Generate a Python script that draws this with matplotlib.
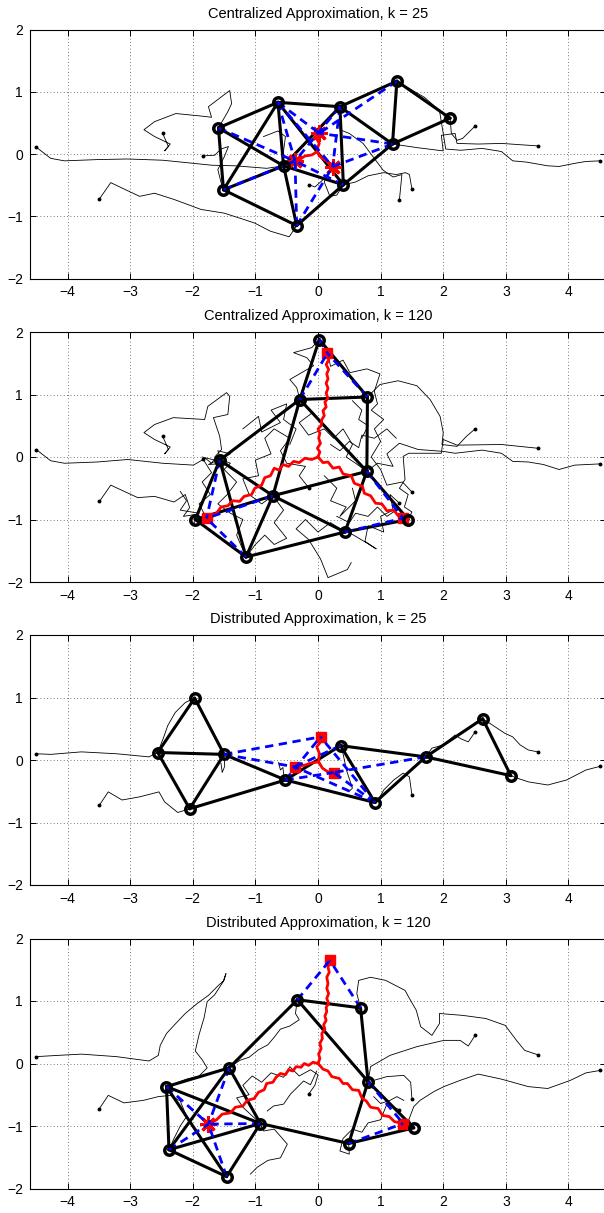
import matplotlib
matplotlib.use("Agg")
import matplotlib.pyplot as plt

plt.rcParams['font.family'] = ['Liberation Sans', 'DejaVu Sans']

titles = ["Centralized Approximation, k = 25",
          "Centralized Approximation, k = 120",
          "Distributed Approximation, k = 25",
          "Distributed Approximation, k = 120"]
x_ticks = [-4, -3, -2, -1, 0, 1, 2, 3, 4]
y_ticks = [-2, -1, 0, 1, 2]

# ---------------- Panel 1 : Centralized, k = 25 ----------------
p1_nodes_x = [-1.59, -0.64, 0.35, 1.26, 2.11, 1.19, -0.55, 0.405, -1.51, -0.34]
p1_nodes_y = [0.42, 0.83, 0.76, 1.17, 0.575, 0.16, -0.19, -0.495, -0.575, -1.15]
p1_edges = [(0, 1), (0, 8), (0, 6), (1, 2), (1, 8), (1, 6), (1, 7), (2, 3), (2, 5),
            (2, 7), (2, 6), (3, 4), (3, 5), (4, 5), (5, 7), (6, 7), (6, 8), (6, 9),
            (7, 9), (8, 9)]
p1_marks_x = [0.02, -0.367, 0.234]
p1_marks_y = [0.334, -0.113, -0.204]
p1_marks_kind = ['*', '*', '*']
p1_dashed = [(0, 1), (1, 0), (1, 1), (1, 2), (2, 1), (2, 2), (3, 0), (5, 0), (5, 2),
             (7, 1), (8, 1), (9, 1), (9, 2)]
p1_red = [
    [(-0.01, 0.04), (0.0, 0.12), (0.021, 0.17), (-0.011, 0.226), (0.02, 0.334)],
    [(-0.01, 0.04), (-0.1, -0.016), (-0.208, -0.032), (-0.288, -0.086), (-0.367, -0.113)],
    [(-0.01, 0.04), (0.021, -0.032), (0.112, -0.097), (0.192, -0.15), (0.234, -0.204)],
]
p1_agent_trails = [
    [(-4.50, 0.11), (-4.27, -0.07), (-4.05, -0.11), (-3.53, -0.09), (-3.04, -0.08), (-2.48, -0.10),
     (-1.99, -0.15), (-1.70, -0.18), (-1.32, -0.19), (-0.82, -0.23), (-0.55, -0.19)],
    [(-3.49, -0.72), (-3.31, -0.46), (-3.04, -0.59), (-2.85, -0.68), (-2.61, -0.63), (-2.30, -0.73),
     (-1.87, -0.89), (-1.50, -0.95), (-1.25, -1.03), (-1.01, -1.11), (-0.76, -1.24), (-0.46, -1.33),
     (-0.34, -1.15)],
    [(-2.48, 0.33), (-2.39, 0.12), (-2.45, 0.05), (-2.36, 0.16), (-2.61, 0.28), (-2.78, 0.39),
     (-2.61, 0.52), (-2.27, 0.65), (-1.87, 0.61), (-1.70, 0.59), (-1.75, 0.76), (-1.41, 1.02),
     (-1.38, 0.81), (-1.44, 0.68), (-1.59, 0.42)],
    [(-1.84, -0.03), (-1.65, -0.02), (-1.55, 0.08), (-1.43, 0.12), (-1.50, -0.05), (-1.60, -0.25),
     (-1.55, -0.45), (-1.51, -0.575)],
    [(3.51, 0.13), (2.93, 0.17), (2.56, 0.16), (2.22, 0.17), (2.19, 0.33), (1.97, 0.30), (2.0, 0.05),
     (1.6, 0.1), (1.19, 0.16)],
    [(2.51, 0.45), (2.31, 0.25), (2.22, 0.22), (2.13, 0.33), (2.11, 0.575)],
    [(4.51, -0.11), (4.28, -0.12), (4.10, -0.15), (3.85, -0.20), (3.67, -0.19), (3.33, -0.13),
     (3.11, -0.11), (2.93, 0.04), (2.62, 0.09), (2.28, 0.06), (2.04, 0.08), (2.0, 0.33), (1.94, 0.70),
     (1.70, 0.91), (1.26, 1.17)],
    [(1.30, -0.74), (1.34, -0.33), (1.2, -0.37), (1.04, -0.26), (0.72, 0.17), (0.5, 0.33),
     (0.35, 0.39), (0.35, 0.76)],
    [(1.50, -0.56), (1.46, -0.33), (1.40, -0.30), (1.25, -0.33), (1.05, -0.30), (0.8, -0.35),
     (0.6, -0.45), (0.405, -0.495)],
    [(-0.15, -0.49), (-0.05, -0.53), (0.14, -0.36), (0.1, -0.45), (0.19, -0.68), (0.3, -0.66),
     (0.405, -0.495)],
]
p1_extra_trails = [
    [(-0.87, 0.28), (-0.64, 0.37), (-0.52, 0.28), (-0.55, 0.05), (-0.55, -0.19)],
]

# ---------------- Panel 2 : Centralized, k = 120 ----------------
p2_nodes_x = [0.02, 0.79, -0.29, -1.57, 0.78, -0.72, -1.96, 1.44, 0.43, -1.15]
p2_nodes_y = [1.88, 0.96, 0.92, -0.05, -0.23, -0.62, -1.0, -1.0, -1.2, -1.6]
p2_edges = [(0, 2), (0, 1), (2, 1), (2, 3), (2, 5), (2, 4), (1, 4), (3, 5), (5, 8), (3, 6),
            (3, 9), (6, 5), (5, 4), (5, 9), (6, 9), (9, 8), (8, 7), (4, 7), (4, 8)]
p2_marks_x = [0.15, -1.78, 1.36]
p2_marks_y = [1.66, -0.98, -0.98]
p2_marks_kind = ['s', 's', 's']
p2_dashed = [(0, 0), (2, 0), (1, 0), (3, 1), (9, 1), (5, 1), (4, 2), (8, 2)]
p2_red = [
    [(0.0, 0.0), (0.03, 0.08), (-0.01, 0.14), (0.04, 0.22), (0.01, 0.30), (0.03, 0.38), (0.0, 0.45),
     (0.05, 0.50), (0.06, 0.60), (0.10, 0.66), (0.08, 0.74), (0.13, 0.80), (0.11, 0.88), (0.16, 0.94),
     (0.13, 1.02), (0.16, 1.10), (0.13, 1.18), (0.16, 1.25), (0.14, 1.33), (0.17, 1.40), (0.13, 1.48),
     (0.17, 1.55), (0.15, 1.66)],
    [(0.0, 0.0), (-0.10, -0.04), (-0.21, -0.02), (-0.30, -0.09), (-0.39, -0.07), (-0.47, -0.15),
     (-0.56, -0.12), (-0.62, -0.21), (-0.70, -0.18), (-0.76, -0.30), (-0.85, -0.33), (-0.90, -0.45),
     (-1.01, -0.50), (-1.06, -0.60), (-1.18, -0.63), (-1.25, -0.71), (-1.36, -0.70), (-1.44, -0.78),
     (-1.55, -0.80), (-1.62, -0.90), (-1.78, -0.98)],
    [(0.0, 0.0), (0.08, -0.09), (0.16, -0.08), (0.24, -0.18), (0.34, -0.16), (0.40, -0.27),
     (0.53, -0.30), (0.58, -0.42), (0.71, -0.47), (0.74, -0.58), (0.84, -0.62), (0.92, -0.74),
     (1.02, -0.75), (1.10, -0.86), (1.21, -0.85), (1.28, -0.94), (1.36, -0.98)],
]
p2_agent_trails = [
    [(-4.50, 0.12), (-4.27, -0.06), (-4.05, -0.10), (-3.53, -0.08), (-3.04, -0.04), (-2.48, -0.10),
     (-1.99, -0.13), (-1.80, -0.02), (-1.70, -0.10), (-1.62, 0.02), (-1.57, -0.05)],
    [(-3.49, -0.71), (-3.31, -0.45), (-2.88, -0.65), (-2.61, -0.63), (-2.30, -0.72), (-2.12, -0.60),
     (-2.05, -0.81), (-2.15, -0.95), (-1.96, -0.92), (-1.96, -1.0)],
    [(-2.48, 0.33), (-2.39, 0.12), (-2.45, 0.05), (-2.36, 0.16), (-2.61, 0.28), (-2.78, 0.39),
     (-2.61, 0.52), (-2.31, 0.63), (-1.81, 0.60), (-1.76, 0.81), (-1.46, 1.03), (-1.41, 0.97),
     (-1.44, 0.68), (-1.67, 0.63), (-1.57, 0.33), (-1.54, 0.12), (-1.65, 0.0), (-1.4, -0.1),
     (-1.5, -0.2), (-1.3, -0.4), (-1.45, -0.6), (-1.6, -0.75), (-1.4, -0.9), (-1.2, -1.0),
     (-1.3, -1.25), (-1.15, -1.6)],
    [(-1.84, -0.03), (-1.7, -0.25), (-1.85, -0.4), (-1.72, -0.6), (-1.9, -0.75), (-1.78, -0.98)],
    [(3.51, 0.14), (2.93, 0.20), (2.22, 0.19), (2.0, 0.28), (1.97, 0.06), (1.45, 0.06), (1.36, 0.01),
     (1.39, -0.36), (1.30, -0.5), (1.44, -0.6), (1.38, -0.8), (1.5, -0.88), (1.44, -1.0)],
    [(2.51, 0.45), (2.37, 0.33), (2.22, 0.17), (1.98, 0.2), (2.0, 0.39), (1.95, 0.65), (1.79, 0.92),
     (1.58, 1.14), (1.28, 1.22), (0.99, 1.16), (0.79, 0.96)],
    [(4.51, -0.11), (4.10, -0.13), (3.85, -0.2), (3.60, -0.12), (3.36, -0.08), (3.11, -0.07),
     (2.93, 0.06), (2.62, 0.11), (2.19, 0.06), (2.0, 0.09), (1.6, 0.12), (1.3, 0.22), (1.1, 0.05),
     (1.2, -0.15), (0.95, -0.1), (0.78, -0.23)],
    [(1.30, -0.74), (1.15, -0.6), (1.2, -0.85), (1.0, -0.95), (1.05, -1.2), (0.8, -1.1), (0.75, -1.35),
     (0.93, -1.47), (0.77, -1.37), (0.5, -1.21), (0.43, -1.2)],
    [(1.50, -0.56), (1.35, -0.4), (1.1, -0.45), (1.0, -0.2), (0.85, 0.0), (1.0, 0.25), (0.9, 0.45),
     (1.05, 0.6), (0.85, 0.75), (0.95, 0.85), (0.9, 1.05), (0.99, 1.33), (0.78, 1.41), (0.51, 1.35),
     (0.4, 1.55), (0.2, 1.45), (0.15, 1.7), (0.02, 1.88)],
    [(-0.15, -0.49), (-0.3, -0.3), (-0.2, -0.15), (-0.5, -0.1), (-0.6, 0.1), (-0.45, 0.3), (-0.7, 0.45),
     (-0.85, 0.3), (-0.75, 0.05), (-1.0, -0.05), (-0.95, -0.3), (-1.2, -0.35), (-1.1, -0.6),
     (-0.9, -0.75), (-0.72, -0.62)],
]
p2_extra_trails = [
    [(0.02, 1.88), (-0.1, 1.75), (-0.39, 1.67), (-0.18, 1.59), (-0.07, 1.46), (-0.26, 1.35),
     (-0.45, 1.24), (-0.34, 1.11), (-0.29, 0.92)],
    [(-0.29, 0.92), (-0.1, 0.7), (-0.3, 0.55), (-0.15, 0.35), (0.1, 0.45), (0.25, 0.3), (0.4, 0.45),
     (0.55, 0.2), (0.45, 0.0), (0.6, -0.1), (0.78, -0.23)],
    [(0.43, -1.2), (0.2, -1.05), (0.0, -1.2), (-0.2, -1.0), (-0.35, -1.15), (-0.15, -1.32),
     (0.04, -1.63), (0.16, -1.93), (0.47, -1.8), (0.53, -1.69)],
    [(-0.72, -0.62), (-0.55, -0.85), (-0.7, -1.05), (-0.5, -1.3), (-0.7, -1.4), (-0.85, -1.25),
     (-1.0, -1.4), (-1.15, -1.6)],
    [(-1.2, 0.45), (-0.95, 0.65), (-0.9, 0.4), (-0.6, 0.55), (-0.75, 0.75), (-0.5, 0.85), (-0.55, 0.6),
     (-0.35, 0.45), (-0.45, 0.2)],
    [(0.2, 0.2), (0.35, 0.1), (0.5, 0.25), (0.65, 0.15), (0.7, 0.35), (0.9, 0.3), (1.1, 0.45),
     (1.25, 0.3)],
    [(-1.85, 0.0), (-1.45, -0.1), (-1.75, -0.12), (-1.4, 0.05), (-1.6, 0.1), (-1.5, -0.2)],
    [(-2.2, -0.55), (-2.1, -0.7), (-2.2, -0.85), (-1.9, -0.9), (-2.0, -1.1)],
    [(0.3, -0.95), (0.5, -1.05), (0.6, -0.9), (0.8, -0.95), (0.95, -0.8), (1.1, -0.95), (1.25, -0.85)],
    [(0.1, -0.3), (0.3, -0.5), (0.2, -0.7), (0.45, -0.8), (0.35, -0.95), (0.6, -0.7), (0.55, -0.5)],
    [(0.55, 0.9), (0.7, 0.75), (0.65, 0.6), (0.8, 0.5), (0.7, 0.3)],
]

# ---------------- Panel 3 : Distributed, k = 25 ----------------
p3_nodes_x = [-2.56, -1.97, -1.50, -2.05, -0.52, 0.36, 0.91, 1.72, 2.63, 3.08]
p3_nodes_y = [0.12, 0.99, 0.09, -0.78, -0.32, 0.23, -0.68, 0.05, 0.66, -0.25]
p3_edges = [(0, 1), (0, 2), (0, 3), (1, 2), (2, 3), (2, 4), (3, 4), (4, 5), (4, 6), (5, 6),
            (5, 7), (6, 7), (7, 8), (7, 9), (8, 9)]
p3_marks_x = [0.04, -0.37, 0.25]
p3_marks_y = [0.37, -0.11, -0.2]
p3_marks_kind = ['s', 's', 's']
p3_dashed = [(2, 0), (2, 1), (4, 0), (4, 2), (5, 1), (6, 1), (6, 0), (6, 2), (7, 2)]
p3_red = [
    [(0.01, -0.03), (0.02, 0.11), (-0.02, 0.21), (0.05, 0.3), (0.04, 0.37)],
    [(0.01, -0.03), (0.07, -0.13), (0.16, -0.19), (0.25, -0.2)],
    [(0.01, -0.03), (-0.12, -0.05), (-0.2, -0.08), (-0.37, -0.11)],
]
p3_agent_trails = [
    [(-4.50, 0.10), (-4.27, 0.09), (-3.78, 0.13), (-3.22, 0.10), (-2.70, 0.05), (-2.56, 0.12)],
    [(-3.49, -0.72), (-3.35, -0.51), (-3.13, -0.64), (-2.85, -0.59), (-2.54, -0.51), (-2.45, -0.67),
     (-2.24, -0.84), (-2.05, -0.78)],
    [(1.50, -0.56), (1.46, -0.27), (1.36, -0.21), (1.21, -0.32), (1.05, -0.48), (0.99, -0.59),
     (0.91, -0.68)],
    [(2.51, 0.45), (2.40, 0.29), (2.28, 0.34), (2.19, 0.40), (2.0, 0.24), (1.82, 0.19), (1.72, 0.05)],
    [(3.51, 0.13), (3.36, 0.16), (3.23, 0.24), (3.11, 0.37), (2.98, 0.43), (2.74, 0.59), (2.63, 0.66)],
    [(4.51, -0.10), (4.28, -0.16), (3.97, -0.32), (3.67, -0.40), (3.36, -0.35), (3.18, -0.29),
     (3.08, -0.25)],
]
p3_extra_trails = [
    [(-2.56, 0.12), (-2.47, 0.35), (-2.40, 0.55), (-2.28, 0.76), (-2.12, 0.92), (-1.97, 0.99)],
    [(-1.55, -0.05), (-1.53, -0.2), (-1.49, -0.1), (-1.50, 0.09)],
    [(-0.63, -0.04), (-0.6, -0.16), (-0.56, -0.12), (-0.55, -0.22), (-0.52, -0.32)],
    [(0.36, 0.23), (0.4, 0.1), (0.46, -0.18), (0.5, -0.3), (0.55, -0.45), (0.5, -0.5)],
]

# ---------------- Panel 4 : Distributed, k = 120 ----------------
p4_nodes_x = [-0.33, 0.68, -1.42, -2.42, 0.80, -0.92, 1.53, 0.49, -2.38, -1.46]
p4_nodes_y = [1.02, 0.89, -0.07, -0.37, -0.29, -0.96, -1.03, -1.28, -1.38, -1.81]
p4_edges = [(0, 1), (0, 2), (0, 4), (1, 4), (4, 6), (4, 7), (6, 7), (7, 5), (2, 3), (2, 5),
            (2, 8), (3, 5), (3, 8), (3, 9), (8, 5), (8, 9), (9, 5)]
p4_marks_x = [0.19, -1.75, 1.36]
p4_marks_y = [1.65, -0.97, -0.96]
p4_marks_kind = ['s', '*', 's']
p4_dashed = [(0, 0), (1, 0), (2, 1), (3, 1), (8, 1), (9, 1), (5, 1), (4, 2), (7, 2)]
p4_red = [
    [(0.0, 0.0), (0.03, 0.08), (0.01, 0.15), (0.05, 0.24), (0.03, 0.32), (0.07, 0.40), (0.06, 0.48),
     (0.11, 0.55), (0.09, 0.62), (0.13, 0.69), (0.11, 0.76), (0.14, 0.83), (0.13, 0.90), (0.17, 0.96),
     (0.14, 1.04), (0.17, 1.12), (0.14, 1.20), (0.16, 1.28), (0.14, 1.38), (0.18, 1.46), (0.16, 1.54),
     (0.19, 1.65)],
    [(0.0, 0.0), (-0.08, 0.02), (-0.15, -0.03), (-0.22, 0.0), (-0.27, -0.06), (-0.35, -0.05),
     (-0.40, -0.12), (-0.47, -0.10), (-0.52, -0.18), (-0.60, -0.16), (-0.67, -0.22), (-0.72, -0.30),
     (-0.82, -0.32), (-0.86, -0.42), (-0.95, -0.46), (-1.02, -0.56), (-1.13, -0.59), (-1.20, -0.68),
     (-1.32, -0.70), (-1.40, -0.79), (-1.53, -0.81), (-1.62, -0.90), (-1.75, -0.97)],
    [(0.0, 0.0), (0.08, -0.09), (0.16, -0.12), (0.22, -0.21), (0.34, -0.24), (0.40, -0.32),
     (0.47, -0.32), (0.55, -0.42), (0.65, -0.43), (0.70, -0.55), (0.77, -0.60), (0.84, -0.70),
     (0.96, -0.72), (1.03, -0.83), (1.14, -0.85), (1.22, -0.93), (1.36, -0.96)],
]
p4_agent_trails = [
    [(-4.50, 0.11), (-4.15, 0.13), (-3.78, 0.15), (-3.22, 0.11), (-2.70, 0.04), (-2.55, 0.13),
     (-2.52, 0.29), (-2.42, 0.48), (-2.30, 0.61), (-2.12, 0.80), (-1.93, 0.96), (-1.75, 1.09),
     (-1.59, 1.25), (-1.50, 1.33), (-1.47, 1.44), (-1.52, 1.3), (-1.65, 1.1), (-1.77, 0.99),
     (-1.82, 0.73), (-1.90, 0.46), (-1.96, 0.2), (-1.85, 0.06), (-1.77, -0.07), (-1.9, -0.2),
     (-2.1, -0.25), (-2.42, -0.37)],
    [(-3.49, -0.72), (-3.35, -0.51), (-3.10, -0.63), (-2.79, -0.59), (-2.55, -0.53), (-2.36, -0.51),
     (-2.2, -0.6), (-2.1, -0.85), (-2.2, -1.0), (-2.3, -1.2), (-2.38, -1.38)],
    [(3.51, 0.14), (3.30, 0.21), (3.17, 0.37), (2.99, 0.61), (2.68, 0.72), (2.31, 0.77), (1.94, 0.80),
     (1.94, 0.64), (1.82, 0.45), (1.64, 0.59), (1.57, 0.85), (1.45, 1.06), (1.39, 1.17), (1.08, 1.33),
     (0.84, 1.38), (0.65, 1.33), (0.62, 1.12), (0.68, 0.89)],
    [(2.51, 0.45), (2.40, 0.28), (2.27, 0.37), (2.01, 0.37), (1.58, 0.27), (1.15, 0.13), (0.84, -0.05),
     (0.80, -0.29)],
    [(4.51, -0.11), (4.28, -0.15), (4.03, -0.27), (3.67, -0.40), (3.36, -0.37), (2.93, -0.25),
     (2.56, -0.17), (2.27, -0.27), (2.01, -0.37), (1.85, -0.45), (1.63, -0.59), (1.53, -0.69),
     (1.45, -0.90), (1.53, -1.03)],
    [(1.50, -0.56), (1.48, -0.3), (1.37, -0.19), (1.10, -0.21), (0.89, -0.27), (0.80, -0.29)],
    [(1.30, -0.74), (1.1, -0.65), (1.0, -0.9), (0.8, -0.95), (0.7, -1.1), (0.55, -1.05), (0.4, -1.2),
     (0.35, -1.4), (0.5, -1.45), (0.49, -1.28)],
    [(-0.15, -0.49), (-0.05, -0.35), (0.0, -0.18), (-0.12, -0.1), (-0.3, -0.2), (-0.45, -0.05),
     (-0.55, -0.22), (-0.75, -0.15), (-0.9, -0.3), (-1.05, -0.2), (-1.2, -0.35), (-1.1, -0.5),
     (-1.3, -0.55), (-1.2, -0.7), (-0.92, -0.96)],
]
p4_extra_trails = [
    [(-0.92, -0.96), (-0.87, -1.08), (-0.7, -1.05), (-0.49, -1.29), (-0.6, -1.51), (-0.8, -1.55),
     (-0.97, -1.66), (-1.08, -1.77)],
    [(-0.33, 1.02), (-0.36, 0.8), (-0.3, 0.7), (-0.45, 0.6), (-0.6, 0.55), (-0.7, 0.42), (-0.8, 0.3),
     (-0.95, 0.22), (-1.1, 0.1), (-1.25, 0.05), (-1.42, -0.07)],
    [(-0.81, -0.76), (-0.71, -0.68), (-0.55, -0.65), (-0.44, -0.49), (-0.34, -0.39), (-0.23, -0.28),
     (-0.12, -0.34), (-0.02, -0.12)],
    [(0.89, -0.53), (1.0, -0.64), (1.15, -0.59), (1.26, -0.53), (1.37, -0.59)],
]

panels = [
    (p1_nodes_x, p1_nodes_y, p1_edges, p1_marks_x, p1_marks_y, p1_marks_kind, p1_dashed, p1_red,
     p1_agent_trails, p1_extra_trails),
    (p2_nodes_x, p2_nodes_y, p2_edges, p2_marks_x, p2_marks_y, p2_marks_kind, p2_dashed, p2_red,
     p2_agent_trails, p2_extra_trails),
    (p3_nodes_x, p3_nodes_y, p3_edges, p3_marks_x, p3_marks_y, p3_marks_kind, p3_dashed, p3_red,
     p3_agent_trails, p3_extra_trails),
    (p4_nodes_x, p4_nodes_y, p4_edges, p4_marks_x, p4_marks_y, p4_marks_kind, p4_dashed, p4_red,
     p4_agent_trails, p4_extra_trails),
]

W, H = 604, 1213
fig = plt.figure(figsize=(W / 100, H / 100), dpi=100)
axes_px = [(29.5, 278.5), (332.0, 582.0), (635.0, 885.0), (938.5, 1188.5)]

for k, (top, bot) in enumerate(axes_px):
    nx, ny, edges, mx, my, mkind, dashed, red, agents, extras = panels[k]
    ax = fig.add_axes([30 / W, (H - bot) / H, 576 / W, (bot - top) / H])
    ax.set_xlim(-4.6, 4.6)
    ax.set_ylim(-2, 2)
    ax.set_xticks(x_ticks)
    ax.set_yticks(y_ticks)
    ax.grid(True, linestyle=(0, (1, 3)), color='0.3', linewidth=0.6)
    ax.set_axisbelow(True)
    ax.tick_params(direction='in', top=True, right=True, length=4, width=0.7,
                   labelsize=10, pad=5)
    for s in ax.spines.values():
        s.set_linewidth(0.8)
    ax.set_title(titles[k], fontsize=10.5, pad=8.5)

    for tr in agents:
        xs = [p[0] for p in tr]
        ys = [p[1] for p in tr]
        ax.plot(xs, ys, color='black', linewidth=0.6, zorder=2)
        ax.plot(xs[0], ys[0], marker='o', color='black', markersize=1.8, zorder=2)
    for tr in extras:
        ax.plot([p[0] for p in tr], [p[1] for p in tr], color='black', linewidth=0.6, zorder=2)

    for (i, j) in edges:
        ax.plot([nx[i], nx[j]], [ny[i], ny[j]], color='black', linewidth=2.2,
                solid_capstyle='round', zorder=3)

    for arm in red:
        ax.plot([p[0] for p in arm], [p[1] for p in arm], color='#ff0000', linewidth=2.0, zorder=4)

    for m in range(len(mx)):
        if mkind[m] == '*':
            ax.plot(mx[m], my[m], marker=(8, 2, 0), color='#ff0000', markersize=12,
                    markeredgewidth=2.2, linestyle='none', zorder=5)
        else:
            ax.plot(mx[m], my[m], marker='s', color='#ff0000', markersize=7,
                    linestyle='none', zorder=5)

    for (i, m) in dashed:
        ax.plot([nx[i], mx[m]], [ny[i], my[m]], color='#0000ff', linewidth=2.0,
                dashes=(3, 2), zorder=6)

    ax.plot(nx, ny, linestyle='none', marker='o', markersize=6.8, markerfacecolor='none',
            markeredgecolor='black', markeredgewidth=2.5, zorder=7)

fig.savefig("out.png", dpi=100)
